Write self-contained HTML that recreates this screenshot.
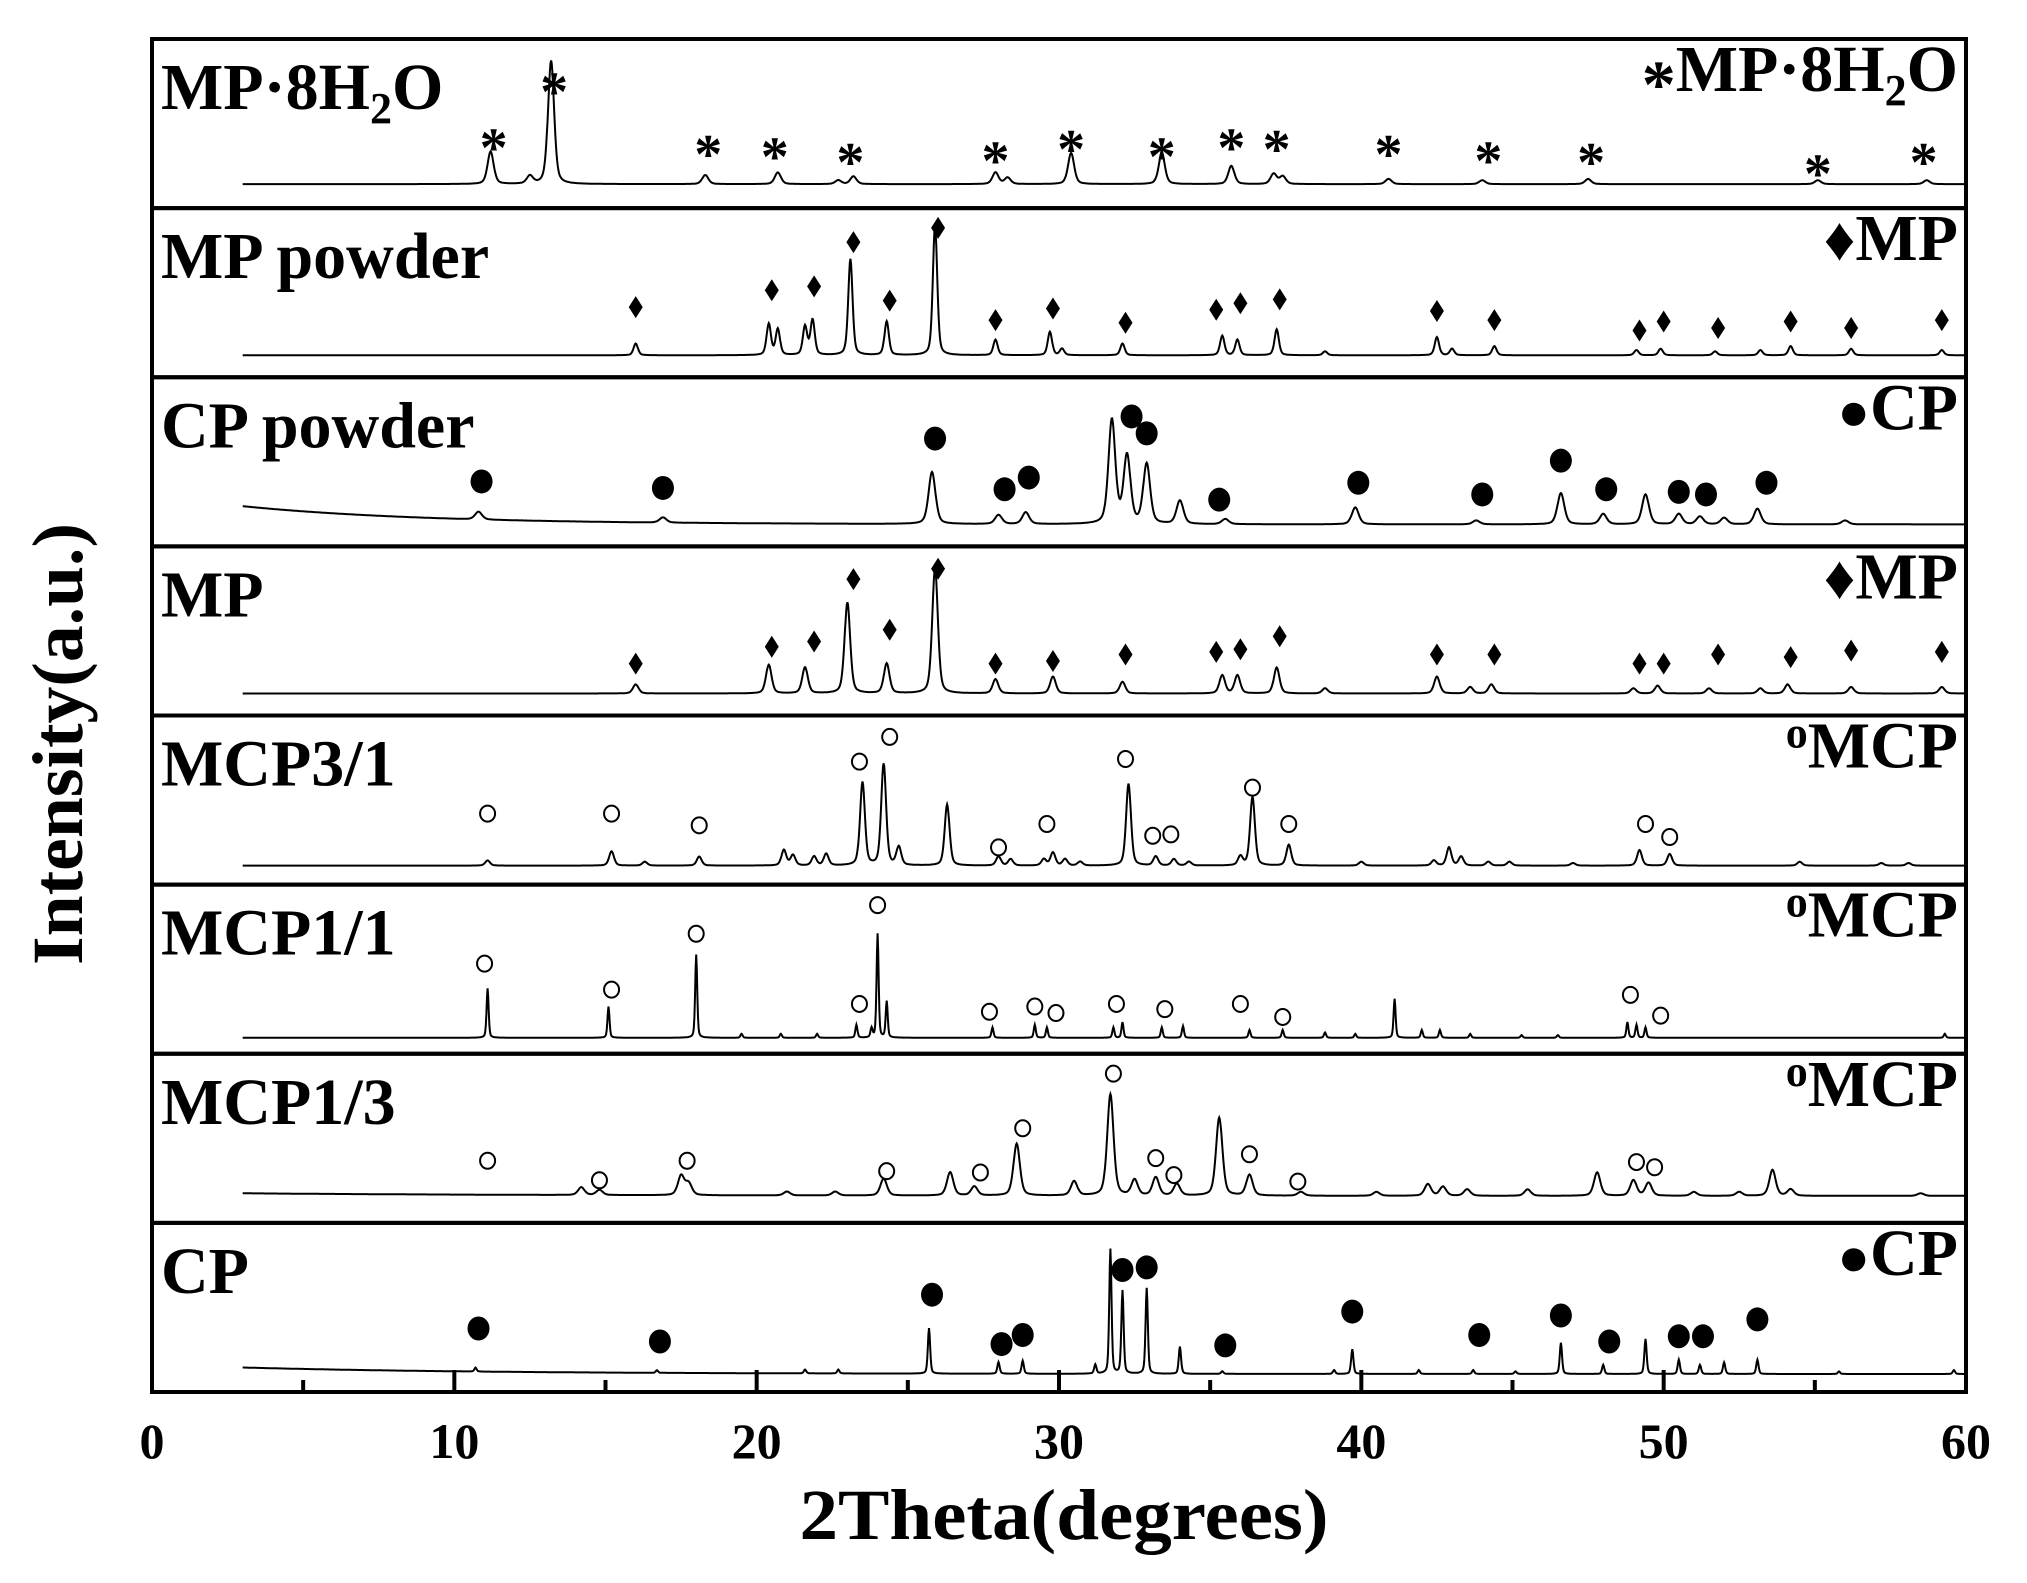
<!DOCTYPE html>
<html><head><meta charset="utf-8"><style>
html,body{margin:0;padding:0;background:#fff}
svg{display:block}
text{font-family:"Liberation Serif","Times New Roman",serif;font-weight:bold;fill:#000}
</style></head><body>
<svg id="chart" width="2027" height="1583" viewBox="0 0 2027 1583" xmlns="http://www.w3.org/2000/svg">
<g id="panels"></g>
<g id="axes"></g>
<text transform="translate(82,744) rotate(-90)" text-anchor="middle" font-size="72" textLength="442" lengthAdjust="spacingAndGlyphs">Intensity(a.u.)</text>
<text x="1064" y="1539" text-anchor="middle" font-size="72" textLength="529" lengthAdjust="spacingAndGlyphs">2Theta(degrees)</text>
</svg>
<script>
// ---- data ----
const xTicks=[0,10,20,30,40,50,60];
const xTickLabels=["0","10","20","30","40","50","60"];
const panelNames=["MP·8H2O","MP powder","CP powder","MP","MCP3/1","MCP1/1","MCP1/3","CP"];
const legendNames=["MP·8H2O","MP","CP","MP","MCP","MCP","MCP","CP"];
const markerTypes=["star","diamond","dot","diamond","ring","ring","ring","dot"];
const peakWidths=[0.24,0.17,0.27,0.22,0.19,0.08,0.25,0.09];
const baselineOffsets=[24,22,22,22,19,16,27,18];
// peaks: [2theta, height]
const peaks1=[[11.2,25],[12.5,6],[13.2,95],[18.3,7],[20.7,9],[22.7,3],[23.2,6],[27.9,9],[28.3,5],[30.4,24],[33.4,24],[35.7,14],[37.1,8],[37.4,6],[40.9,4],[44.0,3],[47.5,4],[55.1,3],[58.7,3]];
const peaks2=[[16.0,9],[20.4,24],[20.7,20],[21.6,22],[21.85,27],[23.1,74],[24.3,26],[25.9,100],[27.9,12],[29.7,18],[30.1,5],[32.1,9],[35.4,15],[35.9,12],[37.2,20],[38.8,3],[42.5,14],[43.0,5],[44.4,7],[49.1,4],[49.9,5],[51.7,3],[53.2,4],[54.2,7],[56.2,5],[59.2,4]];
const peaks3=[[10.8,6],[16.9,4],[25.8,40],[28.0,7],[28.9,9],[31.75,80],[32.25,52],[32.9,46],[34.0,18],[35.5,4],[39.8,13],[43.8,3],[46.6,24],[48.0,8],[49.4,23],[50.5,8],[51.2,6],[52.0,5],[53.1,12],[56.0,3]];
const peaks4=[[16.0,7],[20.4,22],[21.6,20],[23.0,70],[24.3,23],[25.9,96],[27.9,11],[29.8,13],[32.1,9],[35.4,14],[35.9,14],[37.2,20],[38.8,4],[42.5,13],[43.6,5],[44.3,7],[49.0,4],[49.8,6],[51.5,4],[53.2,4],[54.1,7],[56.2,5],[59.2,5]];
const peaks5=[[11.1,4],[15.2,11],[16.3,3],[18.1,7],[20.9,12],[21.2,8],[21.9,7],[22.3,9],[23.5,64],[24.2,78],[24.7,14],[26.3,47],[28.0,7],[28.4,5],[29.5,5],[29.8,10],[30.2,5],[30.7,3],[32.3,63],[33.2,7],[33.8,5],[34.3,3],[36.0,7],[36.4,53],[37.6,16],[40.0,3],[42.4,4],[42.9,14],[43.3,7],[44.2,3],[44.9,3],[47.0,2],[49.2,12],[50.2,9],[54.5,3],[57.2,2],[58.1,2]];
const peaks6=[[11.1,38],[15.1,24],[18.0,64],[19.5,3],[20.8,3],[22.0,3],[23.3,10],[23.8,7],[24.0,80],[24.3,28],[27.8,8],[29.2,10],[29.6,8],[31.8,8],[32.1,12],[33.4,8],[34.1,9],[36.3,6],[37.4,6],[38.8,4],[39.8,3],[41.1,30],[42.0,6],[42.6,6],[43.6,3],[45.3,2],[46.5,2],[48.8,12],[49.1,10],[49.4,8],[59.3,3]];
const peaks7=[[14.2,6],[14.8,4],[17.5,15],[17.75,9],[21.0,3],[22.6,3],[24.2,13],[26.4,18],[27.2,7],[28.6,40],[30.5,11],[31.7,78],[32.5,12],[33.2,14],[33.9,9],[35.3,60],[36.3,16],[38.0,3],[40.5,3],[42.2,9],[42.7,7],[43.5,5],[45.5,5],[47.8,18],[49.0,12],[49.5,10],[51.0,3],[52.5,3],[53.6,20],[54.2,5],[58.5,2]];
const peaks8=[[10.7,3],[16.7,2],[21.6,3],[22.7,3],[25.7,35],[28.0,9],[28.8,10],[31.2,7],[31.7,96],[32.1,64],[32.9,66],[34.0,21],[35.4,2],[39.1,3],[39.7,19],[41.9,3],[43.7,3],[45.1,2],[46.6,24],[48.0,7],[49.4,27],[50.5,11],[51.2,7],[52.0,9],[53.1,11],[55.8,2],[59.6,3]];
// markers: [2theta, height above baseline]
const marks1=[[11.3,32],[13.3,75],[18.4,27],[20.6,25],[23.1,21],[27.9,22],[30.4,31],[33.4,25],[35.7,32],[37.2,31],[40.9,27],[44.2,22],[47.6,21],[55.1,12],[58.6,21]];
const marks2=[[16.0,37],[20.5,50],[21.9,53],[23.2,87],[24.4,42],[26.0,98],[27.9,27],[29.8,36],[32.2,25],[35.2,35],[36.0,40],[37.3,43],[42.5,34],[44.4,27],[49.2,19],[50.0,26],[51.8,21],[54.2,26],[56.2,21],[59.2,27]];
const marks3=[[10.9,33],[16.9,28],[25.9,66],[28.2,27],[29.0,36],[32.4,83],[32.9,70],[35.3,19],[39.9,32],[44.0,23],[46.6,49],[48.1,27],[50.5,25],[51.4,23],[53.4,32]];
const marks4=[[16.0,23],[20.5,36],[21.9,40],[23.2,88],[24.4,49],[26.0,96],[27.9,23],[29.8,25],[32.2,30],[35.2,32],[36.0,34],[37.3,44],[42.5,30],[44.4,30],[49.2,23],[50.0,23],[51.8,30],[54.2,28],[56.2,33],[59.2,32]];
const marks5=[[11.1,40],[15.2,40],[18.1,31],[23.4,80],[24.4,99],[28.0,14],[29.6,32],[32.2,82],[33.1,23],[33.7,24],[36.4,60],[37.6,32],[49.4,32],[50.2,22]];
const marks6=[[11.0,57],[15.2,37],[18.0,80],[23.4,26],[24.0,102],[27.7,20],[29.2,24],[29.9,19],[31.9,26],[33.5,22],[36.0,26],[37.4,16],[48.9,33],[49.9,17]];
const marks7=[[11.1,27],[14.8,12],[17.7,27],[24.3,19],[27.4,18],[28.8,52],[31.8,94],[33.2,29],[33.8,16],[36.3,32],[37.9,11],[49.1,26],[49.7,22]];
const marks8=[[10.8,35],[16.8,25],[25.8,61],[28.1,23],[28.8,30],[32.1,80],[32.9,82],[35.5,22],[39.7,48],[43.9,30],[46.6,45],[48.2,25],[50.5,29],[51.3,29],[53.1,42]];
const allPeaks=[peaks1,peaks2,peaks3,peaks4,peaks5,peaks6,peaks7,peaks8];
const allMarks=[marks1,marks2,marks3,marks4,marks5,marks6,marks7,marks8];

// ---- layout ----
const NS="http://www.w3.org/2000/svg";
const X0=152,X1=1966,TOP=39,BOT=1392,NP=8,PH=(BOT-TOP)/NP,YS=1.3;
const xs=t=>X0+(t-0)/(60-0)*(X1-X0);
const panelTop=i=>TOP+i*PH;
const ys=(i,v)=>panelTop(i)+PH-baselineOffsets[i]-v*YS;
function mk(tag,attrs,parent){const e=document.createElementNS(NS,tag);for(const k in attrs)e.setAttribute(k,attrs[k]);parent.appendChild(e);return e;}
const gP=document.getElementById('panels'),gA=document.getElementById('axes');

for(let i=0;i<NP;i++){
  const g=mk('g',{},gP);
  
  
  const pk=allPeaks[i],w=peakWidths[i];
  let d='';
  for(let t=3;t<=60.001;t+=0.02){
    let v=0;
    for(const p of pk){const z=(t-p[0])/w;v+=p[1]*(0.6*Math.exp(-z*z*2.77)+0.4/(1+z*z*4));}
    if(i===2)v+=14*Math.exp(-(t-3)/6);
    if(i===7)v+=5*Math.exp(-(t-3)/8);
    if(i===6)v+=2*Math.exp(-(t-3)/10);
    d+=(d?'L':'M')+xs(t).toFixed(1)+','+ys(i,v).toFixed(1);
  }
  const path=mk('path',{d:d,fill:'none',stroke:'#000','stroke-width':2},g);
  
  
  for(const m of allMarks[i]){
    const cx=xs(m[0]),cy=ys(i,m[1]);let e;
    if(markerTypes[i]==='star'){e=mk('text',{x:cx,y:cy+24,'text-anchor':'middle','font-size':56},g);e.textContent='*';}
    else if(markerTypes[i]==='diamond'){e=mk('path',{d:`M${cx},${cy-11}L${cx+7},${cy}L${cx},${cy+11}L${cx-7},${cy}Z`,fill:'#000'},g);}
    else if(markerTypes[i]==='dot'){e=mk('ellipse',{cx:cx,cy:cy,rx:11,ry:12,fill:'#000'},g);}
    else {e=mk('ellipse',{cx:cx,cy:cy,rx:7.5,ry:8,fill:'#fff',stroke:'#000','stroke-width':2},g);}
    
    
  }
  const lab=mk('text',{x:161,y:panelTop(i)+70,'font-size':66},g);
  
  
  if(i===0){lab.innerHTML='MP·8H<tspan font-size="44" dy="14">2</tspan><tspan dy="-14">O</tspan>';}
  else lab.textContent=panelNames[i];
  const lg=mk('text',{x:1958,y:panelTop(i)+52,'font-size':66,'text-anchor':'end'},g);
  
  
  const sym={star:'<tspan font-size="68" dy="16">*</tspan><tspan dy="-16">',diamond:'<tspan font-size="62">♦</tspan><tspan>',dot:'<tspan font-size="54">●</tspan><tspan>',ring:'<tspan font-size="44" dy="-20">o</tspan><tspan dy="20">'}[markerTypes[i]];
  if(i===0) lg.innerHTML=sym+'MP·8H</tspan><tspan font-size="44" dy="14">2</tspan><tspan dy="-14">O</tspan>';
  else lg.innerHTML=sym+legendNames[i]+'</tspan>';
}
for(let i=0;i<NP;i++){
  const r=mk('rect',{x:X0,y:panelTop(i),width:X1-X0,height:PH,fill:'none',stroke:'#000','stroke-width':4},gA);
  
  
}
for(let t=5;t<60;t+=5){
  const major=t%10===0;
  const l=mk('line',{x1:xs(t),x2:xs(t),y1:BOT,y2:BOT-(major?22:12),stroke:'#000','stroke-width':4},gA);
  
  
}
xTicks.forEach((t,k)=>{
  const e=mk('text',{x:xs(t),y:1458,'text-anchor':'middle','font-size':50},gA);
  e.textContent=xTickLabels[k];
  
  
});
</script>
</body></html>
